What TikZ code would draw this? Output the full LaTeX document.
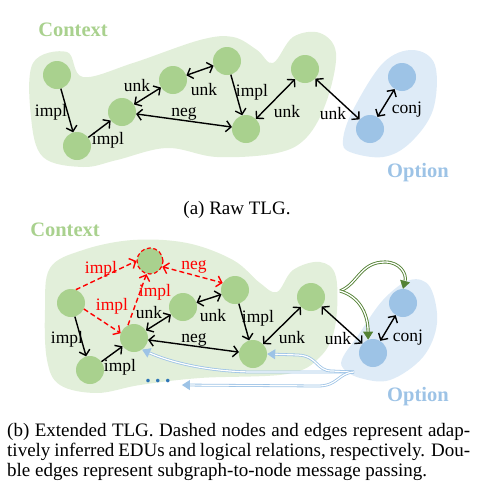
\documentclass[tikz,border=0pt]{standalone}
\usepackage{fontspec}
\setmainfont{Liberation Serif}
\usetikzlibrary{arrows.meta}
\definecolor{gnode}{HTML}{A9D18E}
\definecolor{gblob}{HTML}{E2EFDA}
\definecolor{bnode}{HTML}{9DC3E6}
\definecolor{bblob}{HTML}{DEEBF7}
\definecolor{dgreen}{HTML}{548235}
\definecolor{lblue}{HTML}{9DC3E6}
\definecolor{dotblue}{HTML}{2E75B6}
\tikzset{
  gn/.style={circle, fill=gnode, inner sep=0pt, minimum size=28pt},
  bn/.style={circle, fill=bnode, inner sep=0pt, minimum size=28pt},
  rn/.style={gn, minimum size=26pt, draw=red, dashed, line width=1.2pt, dash pattern=on 4pt off 2.5pt},
  lab/.style={font=\fontsize{17.5}{20}\selectfont, inner sep=0pt},
  rlab/.style={lab, text=red},
  tip/.style={},
  rel/.style={line width=1.4pt, black, -{Straight Barb[length=5pt,width=11pt]}},
  brel/.style={rel, {Straight Barb[length=5pt,width=11pt]}-{Straight Barb[length=5pt,width=11pt]}},
  rrel/.style={rel, red, dash pattern=on 5pt off 3pt},
  rbrel/.style={brel, red, dash pattern=on 5pt off 3pt},
  title/.style={font=\fontsize{20.5}{24}\selectfont\bfseries, inner sep=0pt},
  gpass/.style={draw=dgreen, double=white, line width=0.9pt, double distance=1.3pt, -{Triangle[length=8pt,width=10pt]}, dgreen},
  bpass/.style={draw=lblue, double=white, line width=0.8pt, double distance=1.2pt, -{Triangle[length=8pt,width=10pt]}, lblue},
}
\begin{document}
\begin{tikzpicture}[x=1pt,y=-1pt]
\useasboundingbox (0,0) rectangle (481,493);
% ---------- top panel ----------
\fill[gblob] plot[smooth cycle, tension=0.6] coordinates {
 (33,63) (67,52) (83,77) (133,63) (200,40) (233,37) (257,50) (273,63)
 (293,37) (320,33) (336,53) (327,100) (307,137) (277,153) (217,157)
 (167,148) (117,160) (83,167) (43,157) (31,117)};
\fill[bblob] plot[smooth cycle, tension=0.6] coordinates {
 (343,140) (353,110) (383,63) (413,50) (435,65) (433,110) (410,143)
 (383,157) (350,152)};
\node[title, text=gnode] (ctxa) at (73,30) {Context};
\node[title, text=bnode] (opta) at (418,173) {Option};
\node[gn] (A1) at (57,75) {};
\node[gn] (A2) at (77,146) {};
\node[gn] (A3) at (122,112) {};
\node[gn] (A4) at (173,80) {};
\node[gn] (A5) at (227,61) {};
\node[gn] (A6) at (246,129) {};
\node[gn] (A7) at (305,69) {};
\node[bn] (B1) at (402,77) {};
\node[bn] (B2) at (370,129) {};
\draw[rel] (A1) -- (A2);
\draw[rel] (A2) -- (A3);
\draw[brel] (A3) -- (A4);
\draw[brel] (A4) -- (A5);
\draw[rel] (A5) -- (A6);
\draw[brel] (A3) -- (A6);
\draw[brel] (A6) -- (A7);
\draw[brel] (A7) -- (B2);
\draw[brel] (B2) -- (B1);
\node[lab] (la1) at (51,112) {impl};
\node[lab] (la2) at (108,140) {impl};
\node[lab] (la3) at (137,86) {unk};
\node[lab] (la4) at (204,90) {unk};
\node[lab] (la5) at (252,92) {impl};
\node[lab] (la6) at (184,114) {neg};
\node[lab] (la7) at (287,112) {unk};
\node[lab] (la8) at (333,114) {unk};
\node[lab] (la9) at (407,110) {conj};
\node[font=\fontsize{19}{20}\selectfont, inner sep=0pt] (capa) at (237,210) {(a) Raw TLG.};
% ---------- bottom panel ----------
\fill[gblob] plot[smooth cycle, tension=0.6] coordinates {
 (50,268) (83,250) (133,240) (187,243) (233,260) (260,283) (277,292)
 (293,270) (320,262) (336,277) (335,327) (320,357) (287,374) (200,378)
 (140,385) (97,393) (60,385) (47,360) (45,310)};
\fill[bblob] plot[smooth cycle, tension=0.6] coordinates {
 (343,357) (357,337) (383,300) (410,280) (430,287) (437,323) (423,357)
 (390,380) (360,378) (343,368)};
\node[title, text=gnode] (ctxb) at (65,230) {Context};
\node[title, text=bnode] (optb) at (418,397) {Option};
\node[rn] (C0) at (150,261) {};
\node[gn] (C1) at (71,303) {};
\node[gn] (C2) at (90,370) {};
\node[gn] (C3) at (134,338) {};
\node[gn] (C4) at (183,307) {};
\node[gn] (C5) at (235,290) {};
\node[gn] (C6) at (253,354) {};
\node[gn] (C7) at (311,297) {};
\node[bn] (D1) at (403,303) {};
\node[bn] (D2) at (373,353) {};
\node[font=\fontsize{22}{22}\selectfont\bfseries, text=dotblue, inner sep=0pt] (dots) at (158,381) {.\hspace{4.5pt}.\hspace{4.5pt}.};
\coordinate (gs) at (340,291);
\coordinate (bs) at (354,372);
% passing arrows
\draw[bpass] (bs) -- (250,372) .. controls (205,371) and (170,362) .. (C3.-55);
\draw[bpass] (bs) -- (332,371) .. controls (316,371) and (318,356) .. (298,355) -- (C6.east);
\draw[bpass] (bs) .. controls (338,373) and (338,386) .. (318,386) -- ([xshift=11pt,yshift=-4pt]dots.east);
\draw[gpass] (gs) .. controls (358,284) and (360,262) .. (385,262) .. controls (400,262) and (407,274) .. (D1.north);
\draw[gpass] (gs) .. controls (358,296) and (368,312) .. (D2.110);
% red inferred
\draw[rrel] (C1.70) -- (C0.180);
\draw[rrel] (C1.-25) -- (C3.160);
\draw[rrel] (C3.115) -- (C0.-105);
\draw[rbrel] (C0.-25) -- (C5.150);
% black
\draw[rel] (C1) -- (C2);
\draw[rel] (C2) -- (C3);
\draw[brel] (C3) -- (C4);
\draw[brel] (C4) -- (C5);
\draw[rel] (C5) -- (C6);
\draw[brel] (C3) -- (C6);
\draw[brel] (C6) -- (C7);
\draw[brel] (C7) -- (D2);
\draw[brel] (D2) -- (D1);
\node[rlab] (lr1) at (101,269) {impl};
\node[rlab] (lr2) at (155,292) {impl};
\node[rlab] (lr3) at (112,306) {impl};
\node[rlab] (lr4) at (194,267) {neg};
\node[lab] (lb1) at (67,339) {impl};
\node[lab] (lb2) at (120,367) {impl};
\node[lab] (lb3) at (149,313) {unk};
\node[lab] (lb4) at (213,316) {unk};
\node[lab] (lb5) at (258,318) {impl};
\node[lab] (lb6) at (194,340) {neg};
\node[lab] (lb7) at (292,338) {unk};
\node[lab] (lb8) at (338,339) {unk};
\node[lab] (lb9) at (408,338) {conj};
\node[anchor=north west, text width=463pt, align=justify, inner sep=0pt,
  font=\fontsize{19}{20}\selectfont] (capb) at (7,423)
 {(b) Extended TLG. Dashed nodes and edges represent adap-\linebreak tively inferred EDUs and logical relations, respectively. Dou-\linebreak ble edges represent subgraph-to-node message passing.};
\end{tikzpicture}
\end{document}
